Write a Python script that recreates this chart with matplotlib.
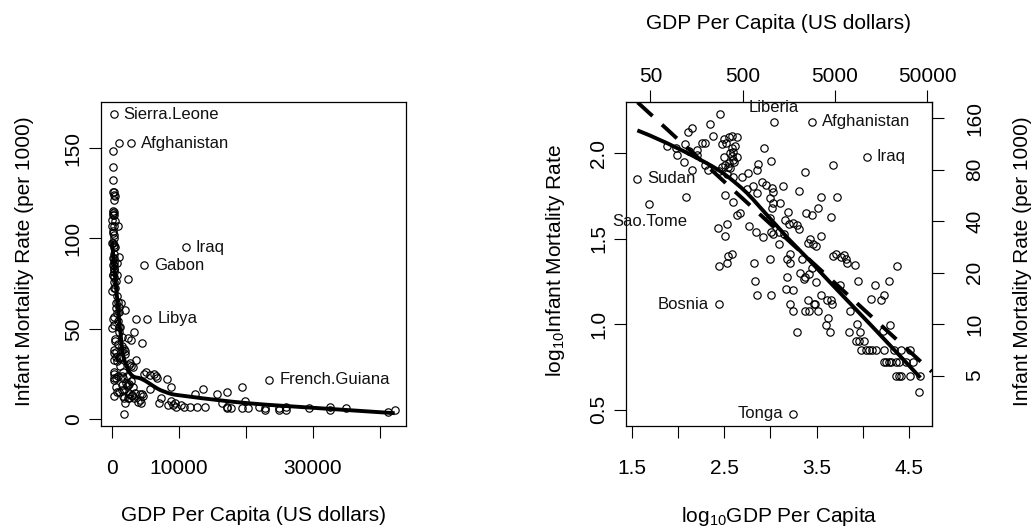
import numpy as np
import matplotlib
matplotlib.use("Agg")
import matplotlib.pyplot as plt

# log10 GDP per capita and log10 infant mortality
# (first entries are the labelled countries)
names = ["Sierra.Leone", "Afghanistan", "Liberia", "Iraq", "Gabon", "Libya",
         "French.Guiana", "Sudan", "Sao.Tome", "Bosnia", "Tonga"]
log_gdp = [2.459, 3.452, 3.041, 4.044, 3.681, 3.725, 4.371, 1.558, 1.689, 2.438, 3.245,
           2.343, 2.155, 2.111, 2.379, 2.292, 2.256, 1.882, 1.978, 2.074, 2.117,
           2.209, 1.991, 2.209, 2.063, 2.147, 2.292, 2.329, 2.438, 2.081, 2.496,
           2.553, 2.634, 2.471, 2.580, 2.597, 2.580, 2.591, 2.507, 2.543, 2.561,
           2.597, 2.689, 2.507, 2.591, 2.634, 2.670, 2.433, 2.525, 2.507, 2.444,
           2.525, 2.543, 2.580,
           2.520, 2.560, 2.600, 2.550, 2.620, 2.500, 2.580, 2.470, 2.640, 2.530,
           2.935, 3.005, 2.870, 2.852, 3.379, 2.761, 2.907, 2.809, 2.750, 2.852,
           2.954, 3.016, 3.033, 3.131, 2.990, 3.033, 3.099, 3.016, 3.306, 3.550,
           3.513, 3.390, 3.452, 3.652, 3.186, 3.161, 3.197, 3.245, 3.288, 3.306,
           2.772, 2.841, 2.924, 2.997, 3.008, 3.027, 3.088, 3.142, 3.088, 3.433,
           3.408, 3.463, 3.499, 3.550, 2.823, 2.990, 3.215, 3.179, 3.215, 3.343,
           3.681, 3.324, 3.379, 3.360, 3.415, 3.452, 3.499, 3.179, 2.834, 2.852,
           3.005, 3.172, 3.245, 3.404, 3.543, 3.616, 3.652, 3.470, 3.488, 3.208,
           3.245, 3.379, 3.415, 3.513, 3.670, 3.626, 3.597, 3.644, 3.288,
           3.706, 3.761, 3.797, 3.815, 3.826, 3.913, 3.949, 4.287, 4.131, 4.233,
           4.197, 4.095, 3.753, 3.862, 4.298, 3.943, 3.851, 3.971, 4.215, 3.924,
           3.960, 4.015,
           3.979, 4.033, 4.069, 4.106, 4.142, 4.233, 4.342, 4.415, 4.513,
           4.233, 4.251, 4.287, 4.306, 4.360, 4.396, 4.469, 4.543,
           4.360, 4.396, 4.415, 4.513, 4.625, 4.615]
log_mort = [2.227, 2.184, 2.184, 1.979, 1.930, 1.744, 1.340, 1.850, 1.703, 1.116, 0.475,
            2.171, 2.145, 2.122, 2.100, 2.061, 2.057, 2.043, 2.030, 2.052, 2.012,
            2.018, 1.989, 1.989, 1.950, 1.901, 1.930, 1.901, 1.897, 1.744, 2.083,
            2.093, 2.092, 2.052, 2.028, 2.008, 1.983, 1.960, 1.930, 1.920, 1.911,
            1.862, 1.862, 1.754, 1.715, 1.637, 1.647, 1.563, 1.584, 1.514, 1.340,
            1.358, 1.397, 1.413,
            2.060, 2.000, 1.950, 1.940, 2.040, 1.980, 2.100, 1.920, 1.980, 1.880,
            2.028, 1.954, 1.936, 1.901, 1.891, 1.885, 1.832, 1.807, 1.788, 1.768,
            1.813, 1.794, 1.774, 1.809, 1.735, 1.709, 1.706, 1.682, 1.780, 1.744,
            1.682, 1.651, 1.641, 1.624, 1.657, 1.608, 1.584, 1.589, 1.579, 1.559,
            1.573, 1.539, 1.510, 1.618, 1.539, 1.530, 1.539, 1.530, 1.471, 1.495,
            1.475, 1.467, 1.457, 1.514, 1.360, 1.378, 1.413, 1.378, 1.358, 1.383,
            1.397, 1.299, 1.276, 1.266, 1.295, 1.328, 1.246, 1.276, 1.250, 1.172,
            1.172, 1.203, 1.202, 1.143, 1.168, 1.143, 1.143, 1.120, 1.116, 1.116,
            1.076, 1.076, 1.076, 1.076, 1.116, 1.038, 0.992, 0.953, 0.953,
            1.413, 1.393, 1.403, 1.383, 1.359, 1.344, 1.250, 1.250, 1.227, 1.172,
            1.143, 1.145, 1.227, 1.076, 0.996, 0.998, 0.953, 0.953, 0.957, 0.904,
            0.904, 0.904,
            0.846, 0.846, 0.846, 0.846, 0.846, 0.846, 0.846, 0.846, 0.846,
            0.777, 0.777, 0.777, 0.777, 0.777, 0.777, 0.777, 0.777,
            0.699, 0.699, 0.699, 0.699, 0.699, 0.601]

# labels: (country, side)  side: r=right, l=left, a=above, b=below
left_labels = [("Sierra.Leone", "r"), ("Afghanistan", "r"), ("Iraq", "r"),
               ("Gabon", "r"), ("Libya", "r"), ("French.Guiana", "r")]
right_labels = [("Liberia", "a"), ("Afghanistan", "r"), ("Iraq", "r"), ("Sudan", "r"),
                ("Sao.Tome", "b"), ("Bosnia", "l"), ("Tonga", "l")]

left_xticks = [0, 10000, 20000, 30000, 40000]
left_xlabels = ["0", "10000", "", "30000", ""]
left_yticks = [0, 50, 100, 150]
right_xticks = [1.5, 2.0, 2.5, 3.0, 3.5, 4.0, 4.5]
right_xlabels = ["1.5", "", "2.5", "", "3.5", "", "4.5"]
right_yticks = [0.5, 1.0, 1.5, 2.0]
top_gdp = [50, 500, 5000, 50000]
side_mort = [5, 10, 20, 40, 80, 160]


def lowess(x, y, f=2 / 3, iters=3):
    idx = np.argsort(x, kind="stable")
    x = np.asarray(x, float)[idx]
    y = np.asarray(y, float)[idx]
    n = len(x)
    ns = max(min(int(f * n + 1e-7), n), 2)
    rw = np.ones(n)
    fit = np.zeros(n)
    for it in range(iters + 1):
        for i in range(n):
            d = np.abs(x - x[i])
            h = np.sort(d)[ns - 1]
            w = np.zeros(n)
            if h > 0:
                u = d / h
                ok = u < 0.999
                w[ok] = (1 - u[ok] ** 3) ** 3
                w[d <= 0.001 * h] = 1.0
            else:
                w[d == 0] = 1.0
            w = w * rw
            if w.sum() <= 0:
                fit[i] = y[i]
                continue
            w = w / w.sum()
            xm = np.sum(w * x)
            var = np.sum(w * (x - xm) ** 2)
            if np.sqrt(var) > 0.001 * (x[-1] - x[0]):
                b = np.sum(w * (x - xm) * y) / var
                fit[i] = np.sum(w * y) + b * (x[i] - xm)
            else:
                fit[i] = np.sum(w * y)
        if it == iters:
            break
        res = np.abs(y - fit)
        cmad = 6 * np.median(res)
        if cmad == 0:
            break
        u = res / cmad
        rw = np.where(u < 1, (1 - u ** 2) ** 2, 0.0)
    return x, fit


def r_range(v):
    lo, hi = np.min(v), np.max(v)
    pad = 0.04 * (hi - lo)
    return lo - pad, hi + pad


def put_labels(ax, xs, ys, labels):
    offs = {"r": ((7, 0), "left"), "l": ((-7, 0), "right"),
            "a": ((0, 10.5), "center"), "b": ((0, -13), "center")}
    for name, side in labels:
        i = names.index(name)
        (dx, dy), ha = offs[side]
        ax.annotate(name, (xs[i], ys[i]), xytext=(dx, dy), textcoords="offset points",
                    ha=ha, va="center", fontsize=12, color="#111111")


plt.rcParams["font.family"] = ["Liberation Sans", "DejaVu Sans"]
plt.rcParams["mathtext.default"] = "regular"

lg = np.array(log_gdp)
lm = np.array(log_mort)
gdp = 10 ** lg
mort = 10 ** lm

fig = plt.figure(figsize=(10.31, 5.29), dpi=100)
ax1 = fig.add_axes([0.0977, 0.195, 0.2961, 0.6115])
ax2 = fig.add_axes([0.6072, 0.195, 0.2965, 0.6115])

pt = dict(ls="none", marker="o", mfc="none", mec="black", ms=5.3, mew=0.85)

# left: raw scale
ax1.plot(gdp, mort, **pt)
sx, sy = lowess(gdp, mort)
ax1.plot(sx, sy, color="black", lw=2.8, solid_capstyle="butt")
ax1.set_xlim(r_range(gdp))
ax1.set_ylim(r_range(mort))
ax1.set_xticks(left_xticks, left_xlabels)
ax1.set_yticks(left_yticks, [str(t) for t in left_yticks], rotation=90, va="center")
ax1.tick_params(axis="both", direction="out", length=8.5, width=0.8, labelsize=15)
ax1.tick_params(axis="x", pad=15.5)
ax1.tick_params(axis="y", pad=4.5)
ax1.set_xlabel("GDP Per Capita (US dollars)", fontsize=15, va="baseline")
ax1.xaxis.set_label_coords(0.5, -0.294)
ax1.set_ylabel("Infant Mortality Rate (per 1000)", fontsize=15, va="baseline")
ax1.yaxis.set_label_coords(-0.232, 0.51)
put_labels(ax1, gdp, mort, left_labels)

# right: log scale
ax2.plot(lg, lm, **pt)
sx, sy = lowess(lg, lm)
ax2.plot(sx, sy, color="black", lw=2.8, solid_capstyle="butt")
slope, icpt = np.polyfit(lg, lm, 1)
ax2.axline((0, icpt), slope=slope, color="black", lw=2.8, ls=(0, (5.2, 3.3)))
ax2.set_xlim(r_range(lg))
ax2.set_ylim(r_range(lm))
ax2.set_xticks(right_xticks, right_xlabels)
ax2.set_yticks(right_yticks, [f"{t:.1f}" for t in right_yticks], rotation=90, va="center")
ax2.tick_params(axis="both", direction="out", length=8.5, width=0.8, labelsize=15)
ax2.tick_params(axis="x", pad=15.5)
ax2.tick_params(axis="y", pad=4.5)
ax2.set_xlabel("log$_{10}$GDP Per Capita", fontsize=15, va="baseline")
ax2.xaxis.set_label_coords(0.5, -0.296)
ax2.set_ylabel("log$_{10}$Infant Mortality Rate", fontsize=15, va="baseline")
ax2.yaxis.set_label_coords(-0.213, 0.51)
put_labels(ax2, lg, lm, right_labels)

top = ax2.secondary_xaxis("top", functions=(lambda v: v, lambda v: v))
top.set_xticks(np.log10(top_gdp), [str(t) for t in top_gdp])
top.tick_params(direction="out", length=8.5, width=0.8, labelsize=15, pad=3)
top.set_xlabel("GDP Per Capita (US dollars)", fontsize=15, va="baseline")
top.xaxis.set_label_coords(0.5, 1.226, transform=ax2.transAxes)

side = ax2.secondary_yaxis("right", functions=(lambda v: v, lambda v: v))
side.set_yticks(np.log10(side_mort), [str(t) for t in side_mort], rotation=90, va="center")
side.tick_params(direction="out", length=8.5, width=0.8, labelsize=15, pad=15.5)
side.set_ylabel("Infant Mortality Rate (per 1000)", fontsize=15, va="baseline", rotation=90)
side.yaxis.set_label_coords(1.316, 0.51, transform=ax2.transAxes)

for ax in (ax1, ax2):
    for s in ax.spines.values():
        s.set_linewidth(0.9)

fig.savefig("out.png", dpi=100)
